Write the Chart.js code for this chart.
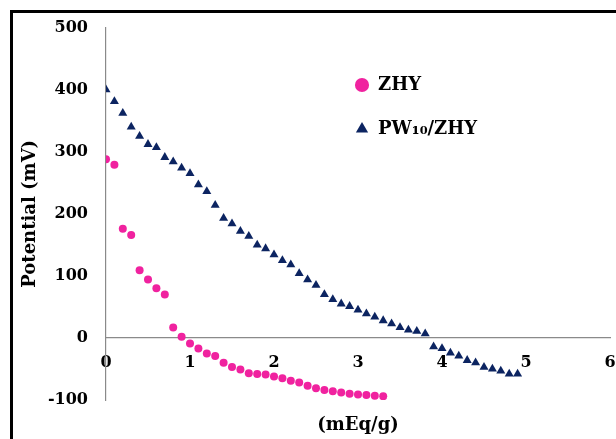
<!DOCTYPE html>
<html>
<head>
<meta charset="utf-8">
<script src="https://cdn.jsdelivr.net/npm/chart.js@4.4.1/dist/chart.umd.min.js"></script>
<style>
  html, body { margin: 0; padding: 0; background: #fff; overflow: hidden; }
  #wrap { position: relative; width: 616px; height: 439px; overflow: hidden; background: #fff; }
  #frame { position: absolute; left: 10px; top: 10px; width: 640px; height: 460px;
           border-left: 3px solid #000; border-top: 3px solid #000; pointer-events: none; }
  canvas { position: absolute; left: 0; top: 0; }
</style>
</head>
<body>
<div id="wrap">
  <canvas id="c" width="616" height="439"></canvas>
  <div id="frame"></div>
</div>
<script>
// ---- data ----
const seriesNames = ['ZHY', 'PW\u2081\u2080/ZHY'];

const zhyX = [0, 0.1, 0.2, 0.3, 0.4, 0.5, 0.6, 0.7, 0.8, 0.9, 1.0, 1.1, 1.2, 1.3, 1.4, 1.5, 1.6,
              1.7, 1.8, 1.9, 2.0, 2.1, 2.2, 2.3, 2.4, 2.5, 2.6, 2.7, 2.8, 2.9, 3.0, 3.1, 3.2, 3.3];
const zhyY = [288, 279, 176, 166, 109, 94, 80, 70, 17, 2, -9, -17, -25, -29, -40, -47, -51,
              -57, -58, -59, -62, -65, -69, -72, -77, -81, -84, -86, -88, -90, -91, -92, -93, -94];

const pwX = [0, 0.1, 0.2, 0.3, 0.4, 0.5, 0.6, 0.7, 0.8, 0.9, 1.0, 1.1, 1.2, 1.3, 1.4, 1.5, 1.6,
             1.7, 1.8, 1.9, 2.0, 2.1, 2.2, 2.3, 2.4, 2.5, 2.6, 2.7, 2.8, 2.9, 3.0, 3.1, 3.2, 3.3,
             3.4, 3.5, 3.6, 3.7, 3.8, 3.9, 4.0, 4.1, 4.2, 4.3, 4.4, 4.5, 4.6, 4.7, 4.8, 4.9];
const pwY = [400, 381, 362, 340, 325, 312, 307, 291, 284, 274, 265, 247, 236, 214, 193, 184, 172,
             164, 150, 144, 134, 125, 118, 104, 94, 85, 70, 62, 55, 51, 45, 39, 34, 28,
             23, 17, 13, 11, 7, -14, -17, -24, -29, -36, -40, -47, -50, -53, -58, -58];

const xTicks = [0, 1, 2, 3, 4, 5, 6];
const yTicks = [-100, 0, 100, 200, 300, 400, 500];

const xTitle = '(mEq/g)';
const yTitle = 'Potential (mV)';

// ---- build ----
const toPts = (xs, ys) => xs.map((x, i) => ({ x: x, y: ys[i] }));
const PINK = '#F0229F';
const NAVY = '#0C2461';
const FONT = 'DejaVu Serif';

const legendPlace = {
  id: 'legendPlace',
  afterLayout(chart) {
    const lg = chart.legend;
    if (!lg) return;
    lg.left = 329; lg.top = 50;
    lg.right = lg.left + 280; lg.bottom = lg.top + 200;
    lg.width = 280; lg.height = 200;
  }
};

new Chart(document.getElementById('c'), {
  type: 'scatter',
  data: {
    datasets: [
      { label: seriesNames[0], data: toPts(zhyX, zhyY), pointStyle: 'circle', pointRadius: 4,
        pointHoverRadius: 4, backgroundColor: PINK, borderColor: PINK, pointBorderWidth: 0 },
      { label: seriesNames[1], data: toPts(pwX, pwY), pointStyle: 'triangle', pointRadius: 5.2,
        pointHoverRadius: 5.2, backgroundColor: NAVY, borderColor: NAVY, pointBorderWidth: 0 }
    ]
  },
  options: {
    responsive: false,
    animation: false,
    devicePixelRatio: 1,
    layout: { padding: { left: 16, top: 25, right: 6, bottom: 3.2 } },
    scales: {
      x: {
        type: 'linear',
        position: { y: 0 },
        min: xTicks[0], max: xTicks[xTicks.length - 1],
        afterBuildTicks(scale) { scale.ticks = xTicks.map(v => ({ value: v })); },
        afterFit(scale) { scale.height = 0; scale.paddingLeft = 0; scale.paddingRight = 0; },
        grid: { display: true, color: 'rgba(0,0,0,0)', drawTicks: false },
        border: { display: true, color: '#8a8a8a', width: 1.2 },
        ticks: { autoSkip: false, padding: 15, color: '#000', maxRotation: 0,
                 font: { family: FONT, size: 16, weight: 'bold' } }
      },
      y: {
        type: 'linear',
        position: 'left',
        min: yTicks[0], max: yTicks[yTicks.length - 1],
        afterBuildTicks(scale) { scale.ticks = yTicks.map(v => ({ value: v })); },
        afterFit(scale) { scale.width = 90; },
        grid: { display: true, color: 'rgba(0,0,0,0)', drawTicks: false },
        border: { display: true, color: '#8a8a8a', width: 1.2 },
        ticks: { autoSkip: false, padding: 18, color: '#000',
                 font: { family: FONT, size: 16, weight: 'bold' } },
        title: { display: true, text: yTitle, color: '#000', padding: { top: 4, bottom: 4 },
                 font: { family: FONT, size: 18, weight: 'bold' } }
      }
    },
    plugins: {
      legend: {
        display: true,
        position: 'chartArea',
        align: 'start',
        labels: {
          usePointStyle: true, boxWidth: 14, boxHeight: 10, padding: 26, color: '#000',
          font: { family: FONT, size: 18, weight: 'bold' }
        }
      },
      title: {
        display: true, text: xTitle, position: 'bottom', fullSize: false, color: '#000',
        padding: { top: 14.2, bottom: 0 },
        font: { family: FONT, size: 18, weight: 'bold' }
      },
      tooltip: { enabled: false }
    }
  },
  plugins: [legendPlace]
});
</script>
</body>
</html>
